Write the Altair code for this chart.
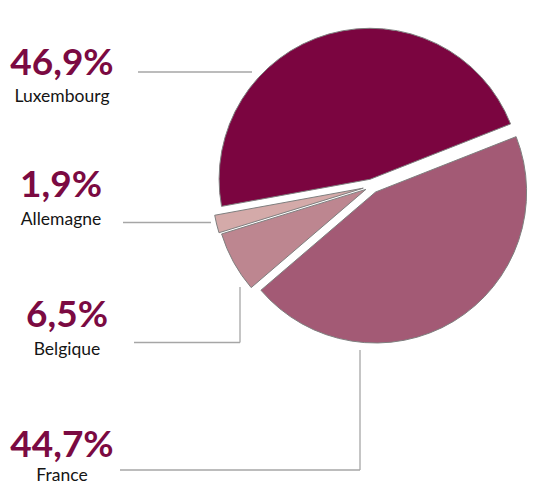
import math
import altair as alt
import pandas as pd

# ---- data (clockwise order, starting from the France slice) ----
countries = ["France", "Belgique", "Allemagne", "Luxembourg"]
shares = [44.7, 6.5, 1.9, 46.9]
share_labels = ["44,7%", "6,5%", "1,9%", "46,9%"]

# ---- styles ----
colors = ["#a35a75", "#bd8690", "#d4aaa9", "#7b0540"]
explode = [7, 7, 9, 7]
pct_color = "#7b0a42"
line_color = "#a6a6a6"

# ---- layout (page pixels, minus the 8px page margin) ----
M = 8
W, H = 555 - 2 * M, 494 - 2 * M
CX, CY = 372 - M, 186 - M
R = 151
START = math.radians(68.5)

label_x = [62, 67, 61, 62]
label_pct_y = [457, 327, 197, 75]
label_name_y = [481, 355, 225, 102]

lead_lines = [  # x, y, x2, y2
    (120, 470, 360, 470), (360, 470, 360, 350),
    (134, 342.5, 240, 342.5), (240, 342.5, 240, 287),
    (123, 222.5, 211, 222.5),
    (138, 72, 252, 72),
]

# ---- build tables ----
total = sum(shares)
c0, c1, cxs, cys = [], [], [], []
acc = 0.0
for s, d in zip(shares, explode):
    a = acc
    b = acc + s
    mid = START + 2 * math.pi * ((a + b) / 2) / total
    c0.append(a)
    c1.append(b)
    cxs.append(CX + d * math.sin(mid))
    cys.append(CY - d * math.cos(mid))
    acc = b

pie_df = pd.DataFrame({"country": countries, "share": shares,
                       "c0": c0, "c1": c1, "cx": cxs, "cy": cys})

lab_df = pd.DataFrame({
    "country": countries,
    "pct": share_labels,
    "x": [v - M for v in label_x],
    "yp": [v - M for v in label_pct_y],
    "yn": [v - M for v in label_name_y],
})

line_df = pd.DataFrame({
    "x": [l[0] - M for l in lead_lines],
    "y": [l[1] - M for l in lead_lines],
    "x2": [l[2] - M for l in lead_lines],
    "y2": [l[3] - M for l in lead_lines],
})

pie = alt.Chart(pie_df).mark_arc(
    radius=R, stroke="#7f7f7f", strokeWidth=1
).encode(
    theta=alt.Theta("c0:Q", scale=alt.Scale(domain=[0, total],
                                            range=[START, START + 2 * math.pi])),
    theta2="c1:Q",
    x=alt.X("cx:Q", scale=None),
    y=alt.Y("cy:Q", scale=None),
    color=alt.Color("country:N", scale=alt.Scale(domain=countries, range=colors),
                    legend=None),
)

rules = alt.Chart(line_df).mark_rule(color=line_color, strokeWidth=1.3).encode(
    x=alt.X("x:Q", scale=None), x2="x2:Q",
    y=alt.Y("y:Q", scale=None), y2="y2:Q",
)

pct = alt.Chart(lab_df).mark_text(
    align="center", baseline="alphabetic", font="Lato", fontSize=37,
    fontWeight="bold", color=pct_color,
).encode(x=alt.X("x:Q", scale=None), y=alt.Y("yp:Q", scale=None), text="pct:N")

names = alt.Chart(lab_df).mark_text(
    align="center", baseline="alphabetic", font="Lato", fontSize=17.5,
    color="#151515",
).encode(x=alt.X("x:Q", scale=None), y=alt.Y("yn:Q", scale=None), text="country:N")

chart = alt.layer(pie, rules, pct, names).properties(
    width=W, height=H, padding=0,
    autosize=alt.AutoSizeParams(type="none"),
).configure_view(strokeWidth=0)

chart.save("out.html", embed_options={"renderer": "svg", "actions": False})
